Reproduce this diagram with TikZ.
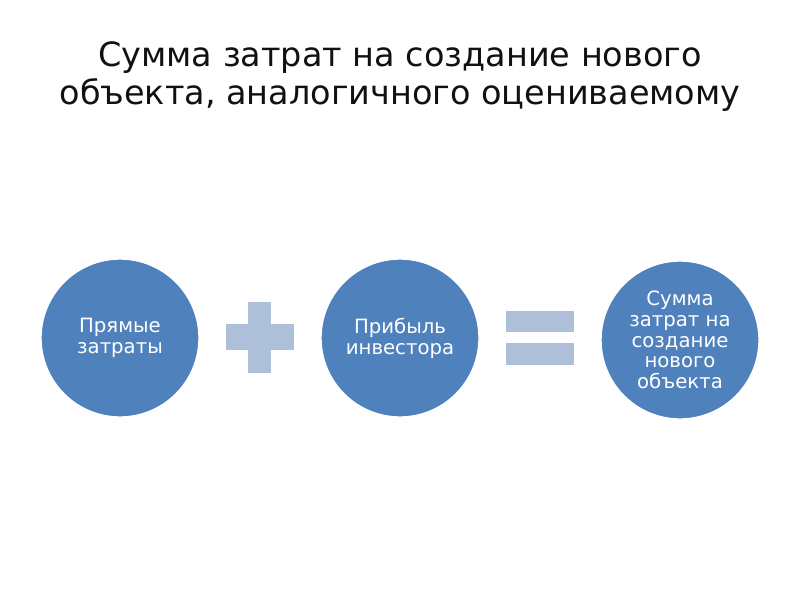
\documentclass[tikz,border=0pt]{standalone}
\usepackage{fontspec}
\setmainfont{DejaVu Sans}
\usepackage{xcolor}
\usetikzlibrary{positioning}
\definecolor{bubbleFill}{HTML}{4F81BD}
\definecolor{signFill}{HTML}{AEBFDA}
\definecolor{titleInk}{HTML}{111111}

\begin{document}
\begin{tikzpicture}[
  x=0.025cm, y=-0.025cm,
  bubble/.style={circle, fill=bubbleFill, draw=white, line width=1pt,
               minimum size=3.95cm, inner sep=0pt, align=center,
               text=white, font=\fontsize{14}{14.8}\selectfont},
  signbar/.style={fill=signFill},
  heading/.style={align=center, text=titleInk, font=\fontsize{23.8}{27}\selectfont}
]
  \useasboundingbox (0,0) rectangle (800,600);

  \node[heading] (title) at (400,77) {Сумма затрат на создание нового\\объекта, аналогичного оцениваемому};

  \node[bubble] (direct) at (120,338) {Прямые\\затраты};
  \node[bubble] (profit) at (400,338) {Прибыль\\инвестора};
  \node[bubble] (total)  at (680,340) {Сумма\\затрат на\\создание\\нового\\объекта};

  % plus sign
  \fill[signbar] (226,324) rectangle (294,350);
  \fill[signbar] (248,302) rectangle (271,373);

  % equals sign
  \fill[signbar] (506,311) rectangle (574,332);
  \fill[signbar] (506,343) rectangle (574,365);
\end{tikzpicture}
\end{document}
